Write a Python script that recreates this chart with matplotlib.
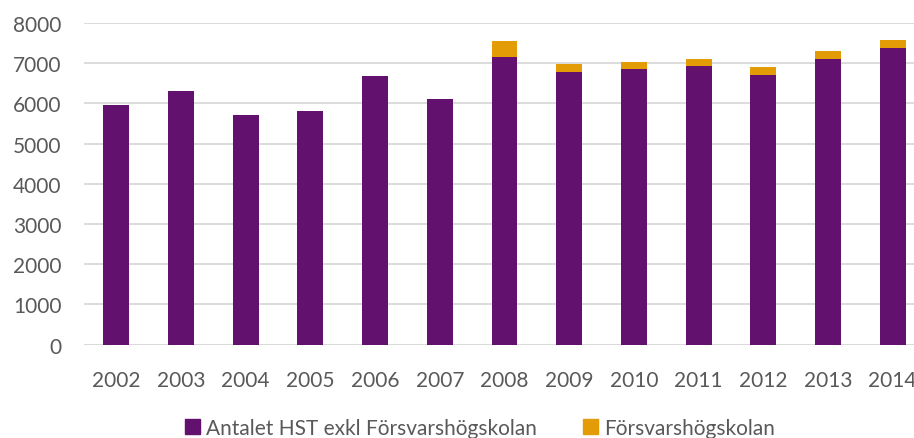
import matplotlib
matplotlib.use("Agg")
import matplotlib.pyplot as plt
from matplotlib.patches import Patch

years = ["2002", "2003", "2004", "2005", "2006", "2007", "2008",
         "2009", "2010", "2011", "2012", "2013", "2014"]
hst_exkl = [5950, 6320, 5700, 5800, 6670, 6100, 7150,
            6790, 6850, 6920, 6715, 7100, 7380]
fhs = [0, 0, 0, 0, 0, 0, 390,
       190, 180, 180, 200, 200, 205]
yticks = [0, 1000, 2000, 3000, 4000, 5000, 6000, 7000, 8000]

purple = "#63116E"
orange = "#E39C06"
grey_text = "#595959"

plt.rcParams['font.family'] = ['Lato', 'DejaVu Sans']

fig = plt.figure(figsize=(9.14, 4.39), dpi=100)
W, H = 914, 439
ax = fig.add_axes([84 / W, 1 - 345.7 / H, 841 / W, 321.7 / H])

x = list(range(len(years)))
ax.bar(x, hst_exkl, width=0.4, color=purple, linewidth=0, zorder=3)
ax.bar(x, fhs, width=0.4, bottom=hst_exkl, color=orange, linewidth=0, zorder=3)

ax.set_xlim(-0.5, len(years) - 0.5)
ax.set_ylim(0, 8000)
ax.set_yticks(yticks)
ax.set_yticklabels([str(v) for v in yticks])
ax.set_xticks(x)
ax.set_xticklabels(years)
ax.yaxis.grid(True, color="#d9d9d9", linewidth=1.3, zorder=0)
ax.set_axisbelow(True)
for s in ax.spines.values():
    s.set_visible(False)
ax.axhline(0, color="#d9d9d9", linewidth=1.3, zorder=2)
ax.tick_params(axis="both", length=0, labelsize=15, colors=grey_text)
ax.tick_params(axis="y", pad=16)
ax.tick_params(axis="x", pad=18)

handles = [Patch(color=purple, label="Antalet HST exkl Försvarshögskolan"),
           Patch(color=orange, label="Försvarshögskolan")]
leg = fig.legend(handles=handles, loc="center", bbox_to_anchor=(480 / W, 1 - 429 / H),
                 ncol=2, frameon=False, fontsize=15, handlelength=0.7, handleheight=0.7,
                 handletextpad=0.3, columnspacing=2.2, borderaxespad=0)
for t in leg.get_texts():
    t.set_color(grey_text)

fig.savefig("out.png", dpi=100)
